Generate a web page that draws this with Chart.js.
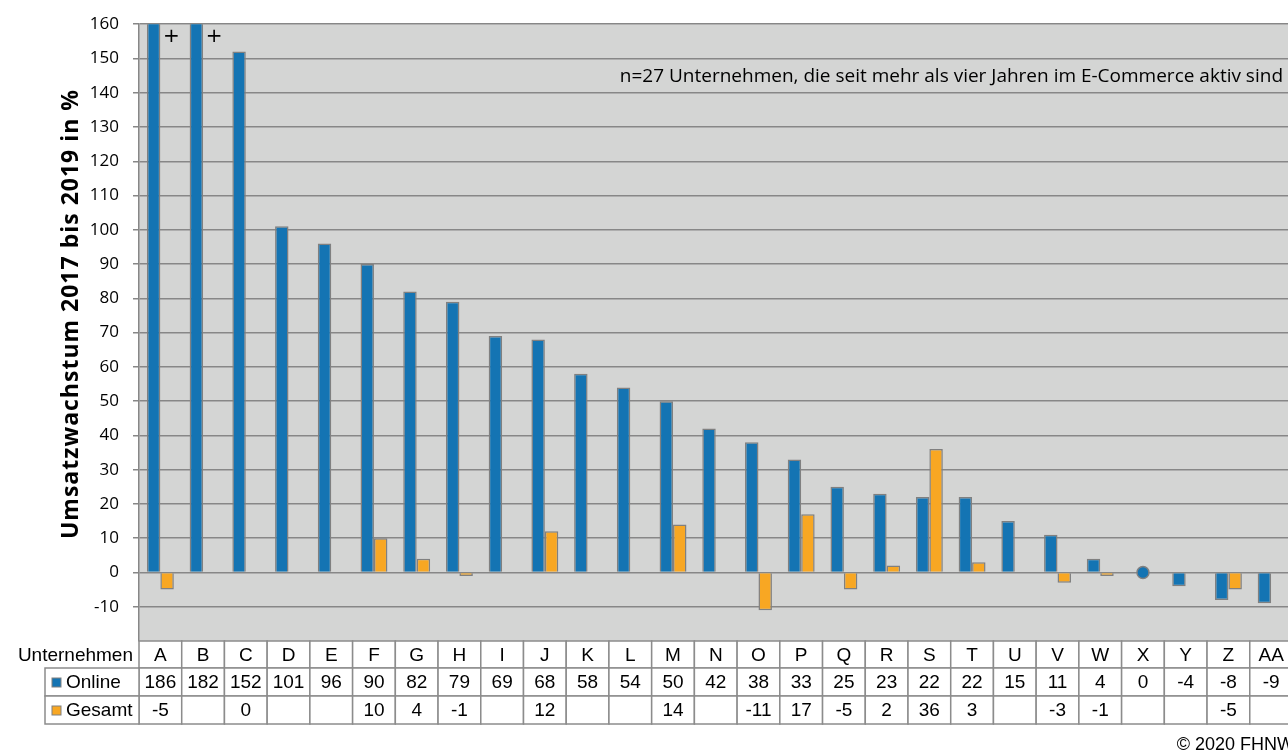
<!DOCTYPE html>
<html lang="de">
<head>
    <meta charset="UTF-8">
    <title>Umsatzwachstum 2017 bis 2019</title>
    <script src="https://cdn.jsdelivr.net/npm/chart.js"></script>
    <style>
        html, body {
            margin: 0;
            padding: 0;
            background: #ffffff;
            overflow: hidden;
        }
        #chart {
            display: block;
        }
    </style>
</head>
<body>
    <canvas id="chart" width="1300" height="753"></canvas>

    <script>
        // Data
        const companies = ['A', 'B', 'C', 'D', 'E', 'F', 'G', 'H', 'I', 'J', 'K', 'L', 'M', 'N',
            'O', 'P', 'Q', 'R', 'S', 'T', 'U', 'V', 'W', 'X', 'Y', 'Z', 'AA'];
        const online = [186, 182, 152, 101, 96, 90, 82, 79, 69, 68, 58, 54, 50, 42,
            38, 33, 25, 23, 22, 22, 15, 11, 4, 0, -4, -8, -9];
        const gesamt = [-5, null, 0, null, null, 10, 4, -1, null, 12, null, null, 14, null,
            -11, 17, -5, 2, 36, 3, null, -3, -1, null, null, -5, null];
        const yTicks = [160, 150, 140, 130, 120, 110, 100, 90, 80, 70, 60, 50, 40, 30, 20, 10, 0, -10];

        const blue = '#1474b3';
        const orange = '#f8a723';
        const edge = '#808080';
        const note = 'n=27 Unternehmen, die seit mehr als vier Jahren im E-Commerce aktiv sind';

        // grey plot background
        const plotBg = {
            id: 'plotBg',
            beforeDraw(chart) {
                const { ctx, chartArea: a } = chart;
                ctx.save();
                ctx.fillStyle = '#d4d5d4';
                ctx.fillRect(a.left, a.top, a.right - a.left, a.bottom - a.top);
                ctx.restore();
            }
        };

        // y title, note, "+" marks, data table, copyright
        const extras = {
            id: 'extras',
            afterDraw(chart) {
                const { ctx, chartArea: a, scales } = chart;
                const x = scales.x, y = scales.y;
                const colW = (a.right - a.left) / companies.length;
                ctx.save();

                // axis title
                ctx.save();
                ctx.translate(71, 314);
                ctx.rotate(-Math.PI / 2);
                ctx.font = 'bold 23px "Open Sans", sans-serif';
                ctx.letterSpacing = '1px';
                ctx.fillStyle = '#000';
                ctx.textAlign = 'center';
                ctx.textBaseline = 'middle';
                ctx.fillText('Umsatzwachstum 2017 bis 2019 in %', 0, 0);
                ctx.restore();

                // note
                ctx.fillStyle = '#000';
                ctx.font = '19px "Open Sans", sans-serif';
                ctx.textAlign = 'right';
                ctx.textBaseline = 'alphabetic';
                ctx.fillText(note, 1283, 82);

                // clipped bars get a "+"
                ctx.font = '20px "DejaVu Sans", sans-serif';
                ctx.textAlign = 'center';
                ctx.textBaseline = 'middle';
                online.forEach((v, i) => {
                    if (v > y.max) ctx.fillText('+', x.getPixelForValue(i) + 11, 37);
                });

                // table
                const top = a.bottom;
                const rowH = [27, 28, 28];
                const rows = [companies, online, gesamt];
                ctx.font = '19px "Liberation Sans", Arial, sans-serif';
                ctx.lineWidth = 1.5;
                let ry = top;
                rows.forEach((row, r) => {
                    row.forEach((v, i) => {
                        const cx = x.getPixelForValue(i);
                        ctx.fillStyle = '#fff';
                        ctx.fillRect(cx - colW / 2, ry, colW, rowH[r]);
                        ctx.strokeStyle = '#8c8c8c';
                        ctx.strokeRect(cx - colW / 2, ry, colW, rowH[r]);
                        ctx.fillStyle = '#000';
                        ctx.textAlign = 'center';
                        if (v !== null) ctx.fillText(String(v), cx, ry + rowH[r] / 2 + 1);
                    });
                    ry += rowH[r];
                });

                // row headers
                ctx.textAlign = 'right';
                ctx.fillText('Unternehmen', 133, top + rowH[0] / 2 + 1);
                const legend = [['Online', blue], ['Gesamt', orange]];
                let ly = top + rowH[0];
                legend.forEach(([label, col], k) => {
                    const h = rowH[k + 1];
                    ctx.fillStyle = '#fff';
                    ctx.fillRect(45, ly, a.left - 45, h);
                    ctx.strokeStyle = '#8c8c8c';
                    ctx.lineWidth = 1.5;
                    ctx.strokeRect(45, ly, a.left - 45, h);
                    ctx.fillStyle = col;
                    ctx.fillRect(52, ly + h / 2 - 4, 9, 9);
                    ctx.strokeStyle = edge;
                    ctx.lineWidth = 1;
                    ctx.strokeRect(52, ly + h / 2 - 4, 9, 9);
                    ctx.fillStyle = '#000';
                    ctx.textAlign = 'left';
                    ctx.fillText(label, 66, ly + h / 2 + 1);
                    ly += h;
                });

                // copyright
                ctx.font = '18px "Liberation Sans", Arial, sans-serif';
                ctx.textAlign = 'right';
                ctx.fillText('\u00a9 2020 FHNW', 1294, 745);
                ctx.restore();
            }
        };

        const ctx = document.getElementById('chart').getContext('2d');
        new Chart(ctx, {
            type: 'bar',
            data: {
                labels: companies,
                datasets: [
                    {
                        label: 'Online',
                        data: online,
                        backgroundColor: blue,
                        borderColor: edge,
                        borderWidth: 1.5,
                        categoryPercentage: 0.63,
                        barPercentage: 1.0,
                        order: 2
                    },
                    {
                        label: 'Gesamt',
                        data: gesamt,
                        backgroundColor: orange,
                        borderColor: edge,
                        borderWidth: 1.5,
                        categoryPercentage: 0.63,
                        barPercentage: 1.0,
                        order: 2
                    },
                    {
                        // zero growth shown as a dot
                        type: 'line',
                        label: 'Null',
                        data: online.map(v => (v === 0 ? 0 : null)),
                        showLine: false,
                        pointRadius: 6,
                        pointBackgroundColor: blue,
                        pointBorderColor: edge,
                        pointBorderWidth: 1.5,
                        order: 1
                    }
                ]
            },
            options: {
                responsive: false,
                animation: false,
                layout: { padding: { top: 20, bottom: 112, left: 0, right: 2 } },
                plugins: {
                    legend: { display: false },
                    tooltip: { enabled: false }
                },
                scales: {
                    x: {
                        display: false
                    },
                    y: {
                        min: -20,
                        max: 160,
                        afterFit(scale) { scale.width = 139; },
                        afterBuildTicks(scale) {
                            scale.ticks = yTicks.map(v => ({ value: v }));
                        },
                        ticks: {
                            padding: 14,
                            color: '#000',
                            font: { family: '"Open Sans", sans-serif', size: 17 }
                        },
                        grid: {
                            color: '#878787',
                            lineWidth: 1.5,
                            tickLength: 6
                        },
                        border: { display: true, color: '#878787', width: 1.5 }
                    }
                }
            },
            plugins: [plotBg, extras]
        });
    </script>
</body>
</html>
